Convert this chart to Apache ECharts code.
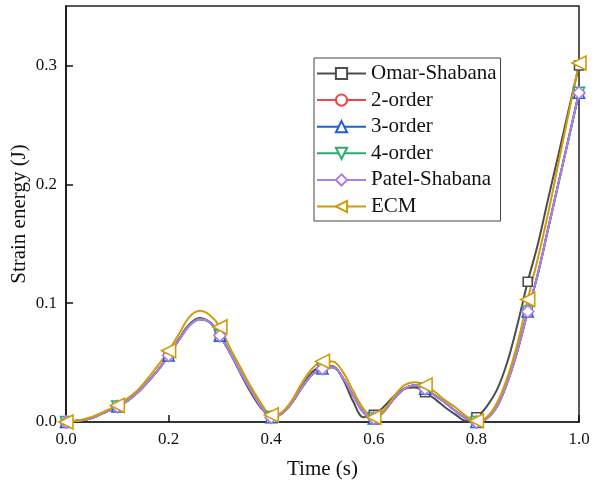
<!DOCTYPE html>
<html>
<head>
<meta charset="utf-8">
<script src="https://cdn.jsdelivr.net/npm/echarts@6/dist/echarts.min.js"></script>
<style>
  html, body { margin: 0; padding: 0; background: #fff; }
  #chart { width: 597px; height: 486px; }
</style>
</head>
<body>
<div id="chart"></div>
<script>
// Time samples (s), every 0.02 s; markers are shown every 0.1 s
const time = [
  0.00, 0.02, 0.04, 0.06, 0.08, 0.10, 0.12, 0.14, 0.16, 0.18,
  0.20, 0.22, 0.24, 0.26, 0.28, 0.30, 0.32, 0.34, 0.36, 0.38,
  0.40, 0.42, 0.44, 0.46, 0.48, 0.50, 0.52, 0.54, 0.56, 0.58,
  0.60, 0.62, 0.64, 0.66, 0.68, 0.70, 0.72, 0.74, 0.76, 0.78,
  0.80, 0.82, 0.84, 0.86, 0.88, 0.90, 0.92, 0.94, 0.96, 0.98, 1.00
];

// Strain energy (J) for each method
const omarShabana = [
  0.000, 0.001, 0.002, 0.005, 0.009, 0.013, 0.018, 0.025, 0.034, 0.044,
  0.056, 0.070, 0.082, 0.0875, 0.084, 0.074, 0.058, 0.041, 0.025, 0.012,
  0.005, 0.007, 0.016, 0.030, 0.042, 0.047, 0.047, 0.036, 0.017, 0.004,
  0.006, 0.013, 0.022, 0.028, 0.029, 0.025, 0.019, 0.012, 0.006, 0.001,
  0.004, 0.013, 0.027, 0.050, 0.082, 0.118, 0.150, 0.188, 0.225, 0.263, 0.300
];
const order2 = [
  0.000, 0.001, 0.002, 0.005, 0.009, 0.013, 0.018, 0.025, 0.034, 0.044,
  0.056, 0.069, 0.081, 0.0865, 0.084, 0.0727, 0.058, 0.042, 0.027, 0.013,
  0.004, 0.007, 0.016, 0.029, 0.040, 0.045, 0.046, 0.037, 0.022, 0.008,
  0.003, 0.009, 0.020, 0.028, 0.031, 0.028, 0.022, 0.016, 0.009, 0.003,
  0.000, 0.003, 0.013, 0.033, 0.060, 0.093, 0.125, 0.163, 0.201, 0.239, 0.277
];
const order3 = [
  0.000, 0.001, 0.002, 0.005, 0.009, 0.013, 0.018, 0.025, 0.034, 0.044,
  0.056, 0.069, 0.081, 0.0865, 0.084, 0.0727, 0.058, 0.042, 0.027, 0.013,
  0.004, 0.007, 0.016, 0.029, 0.040, 0.045, 0.046, 0.037, 0.022, 0.008,
  0.003, 0.009, 0.020, 0.028, 0.031, 0.028, 0.022, 0.016, 0.009, 0.003,
  0.000, 0.003, 0.013, 0.033, 0.060, 0.093, 0.125, 0.163, 0.201, 0.239, 0.277
];
const order4 = [
  0.000, 0.001, 0.002, 0.005, 0.009, 0.013, 0.018, 0.025, 0.034, 0.044,
  0.056, 0.069, 0.081, 0.0865, 0.084, 0.0727, 0.058, 0.042, 0.027, 0.013,
  0.004, 0.007, 0.016, 0.029, 0.040, 0.045, 0.046, 0.037, 0.022, 0.008,
  0.003, 0.009, 0.020, 0.028, 0.031, 0.028, 0.022, 0.016, 0.009, 0.003,
  0.000, 0.003, 0.013, 0.033, 0.060, 0.093, 0.125, 0.163, 0.201, 0.239, 0.277
];
const patelShabana = [
  0.000, 0.001, 0.002, 0.005, 0.009, 0.013, 0.018, 0.025, 0.034, 0.044,
  0.056, 0.069, 0.081, 0.0865, 0.084, 0.0727, 0.058, 0.042, 0.027, 0.013,
  0.004, 0.007, 0.016, 0.029, 0.040, 0.045, 0.046, 0.037, 0.022, 0.008,
  0.003, 0.009, 0.020, 0.028, 0.031, 0.028, 0.022, 0.016, 0.009, 0.003,
  0.000, 0.003, 0.013, 0.033, 0.060, 0.093, 0.125, 0.163, 0.201, 0.239, 0.277
];
const ecm = [
  0.000, 0.001, 0.003, 0.006, 0.010, 0.014, 0.020, 0.027, 0.037, 0.048,
  0.060, 0.074, 0.088, 0.0935, 0.090, 0.080, 0.062, 0.046, 0.030, 0.016,
  0.006, 0.008, 0.018, 0.033, 0.045, 0.051, 0.051, 0.042, 0.026, 0.011,
  0.004, 0.010, 0.022, 0.031, 0.0335, 0.031, 0.025, 0.018, 0.012, 0.005,
  0.001, 0.004, 0.016, 0.037, 0.066, 0.103, 0.138, 0.176, 0.218, 0.260, 0.302
];

const xTicks = [0.0, 0.2, 0.4, 0.6, 0.8, 1.0];
const yTicks = [0.0, 0.1, 0.2, 0.3];

const FONT = '"Liberation Serif", "Times New Roman", serif';
const MARKER_EVERY = 5;

// Build [t, value] pairs; only every 0.1 s carries a visible marker
function toPoints(values) {
  return values.map((v, i) => {
    const item = { value: [time[i], v] };
    if (i % MARKER_EVERY !== 0) item.symbol = 'none';
    return item;
  });
}

function lineSeries(name, values, color, symbol, size, rotate) {
  return {
    name: name,
    type: 'line',
    data: toPoints(values),
    smooth: 0.35,
    showAllSymbol: true,
    symbol: symbol,
    symbolSize: size,
    symbolRotate: rotate || 0,
    lineStyle: { color: color, width: 2 },
    itemStyle: { color: '#ffffff', borderColor: color, borderWidth: 1.6 },
    emphasis: { disabled: true },
    z: 2
  };
}

const chart = echarts.init(document.getElementById('chart'), null, { renderer: 'canvas' });

chart.setOption({
  animation: false,
  backgroundColor: '#ffffff',
  grid: {
    left: 66, right: 18, top: 6, bottom: 64,
    outerBoundsMode: 'none',
    containLabel: false,
    show: true, borderColor: '#222', borderWidth: 1.5, backgroundColor: 'transparent'
  },
  legend: {
    orient: 'vertical',
    left: 314, top: 58,
    padding: [5, 4, 4, 2],
    itemGap: 5.6,
    itemWidth: 49, itemHeight: 14,
    borderColor: '#444', borderWidth: 1,
    backgroundColor: '#ffffff',
    textStyle: { fontFamily: FONT, fontSize: 21, color: '#111' },
    data: ['Omar-Shabana', '2-order', '3-order', '4-order', 'Patel-Shabana', 'ECM']
  },
  xAxis: {
    type: 'value',
    min: xTicks[0], max: xTicks[xTicks.length - 1], interval: 0.2,
    name: 'Time (s)', nameLocation: 'middle', nameGap: 37,
    nameMoveOverlap: false,
    nameTextStyle: { fontFamily: FONT, fontSize: 21, color: '#111' },
    axisLine: { show: true, onZero: false, lineStyle: { color: '#333', width: 2.2 } },
    axisTick: { show: true, inside: true, length: 7, lineStyle: { color: '#111', width: 1.5 } },
    axisLabel: {
      fontFamily: FONT, fontSize: 17, color: '#111', margin: 9,
      formatter: v => xTicks.some(t => Math.abs(t - v) < 1e-9) ? v.toFixed(1) : ''
    },
    splitLine: { show: false }
  },
  yAxis: {
    type: 'value',
    min: 0, max: 0.35, interval: 0.1,
    name: 'Strain energy (J)', nameLocation: 'middle', nameGap: 36,
    nameMoveOverlap: false,
    nameTextStyle: { fontFamily: FONT, fontSize: 21, color: '#111' },
    axisLine: { show: true, onZero: false, lineStyle: { color: '#111', width: 1.6 } },
    axisTick: { show: true, inside: true, length: 7, lineStyle: { color: '#111', width: 1.5 } },
    axisLabel: {
      fontFamily: FONT, fontSize: 17, color: '#111', margin: 9, showMaxLabel: false,
      formatter: v => yTicks.some(t => Math.abs(t - v) < 1e-9) ? v.toFixed(1) : ''
    },
    splitLine: { show: false }
  },
  series: [
    lineSeries('Omar-Shabana', omarShabana, '#4d4d4d', 'rect', 9, 0),
    lineSeries('2-order', order2, '#f0444a', 'circle', 10, 0),
    lineSeries('3-order', order3, '#1f5fd6', 'triangle', 11, 0),
    lineSeries('4-order', order4, '#2eaa6a', 'triangle', 11, 180),
    lineSeries('Patel-Shabana', patelShabana, '#b07ce8', 'diamond', 12, 0),
    lineSeries('ECM', ecm, '#d09c0a', 'triangle', 14, 90)
  ]
});
</script>
</body>
</html>
